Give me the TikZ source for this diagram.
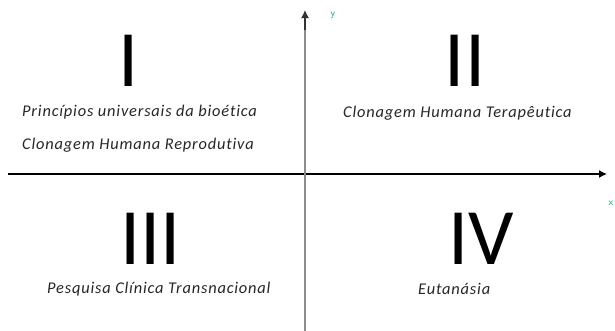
\documentclass[tikz,border=0pt]{standalone}
\usepackage{fontspec}
\setmainfont{Carlito}
\newfontfamily\lblfont{Carlito}[Ligatures={NoCommon}, LetterSpace=5]
\usetikzlibrary{arrows.meta}
\begin{document}
\begin{tikzpicture}[x=1pt,y=-1pt,
  numeral/.style={font=\fontsize{80}{80}\selectfont, inner sep=0pt, anchor=base},
  label/.style={font=\lblfont\fontsize{16.4}{18}\selectfont\itshape, inner sep=0pt, anchor=west, text=black!85},
  axislbl/.style={font=\fontsize{10}{10}\selectfont\sffamily, text=teal!70!green, inner sep=0pt},
  axis/.style={line width=1.3pt, -{Latex[length=8pt,width=8pt]}}]
\useasboundingbox (0,0) rectangle (615,330);
% axes
\coordinate (xs) at (8,174);
\coordinate (xe) at (607,174);
\coordinate (ys) at (305,332);
\coordinate (ye) at (305,10);
\draw[axis, black] (xs) -- (xe);
\draw[line width=1.6pt, black!45] (ys) -- (305,30);
\draw[axis, black!80] (305,30) -- (ye);
\node[axislbl] (ylab) at (333,15) {y};
\node[axislbl] (xlab) at (611,203) {x};
% numerals
\node[numeral] (n1) at (128.5,86) {I};
\node[numeral] (n2) at (465,86) {II};
\node[numeral] (n3) at (150.5,264) {III};
\node[numeral] (n4) at (481,264) {IV};
% labels
\node[label] (t1) at (22,112) {Princípios universais da bioética};
\node[label] (t2) at (22,145) {Clonagem Humana Reprodutiva};
\node[label] (t3) at (343,113) {Clonagem Humana Terapêutica};
\node[label] (t4) at (47,289) {Pesquisa Clínica Transnacional};
\node[label] (t5) at (418,289) {Eutanásia};
\end{tikzpicture}
\end{document}
